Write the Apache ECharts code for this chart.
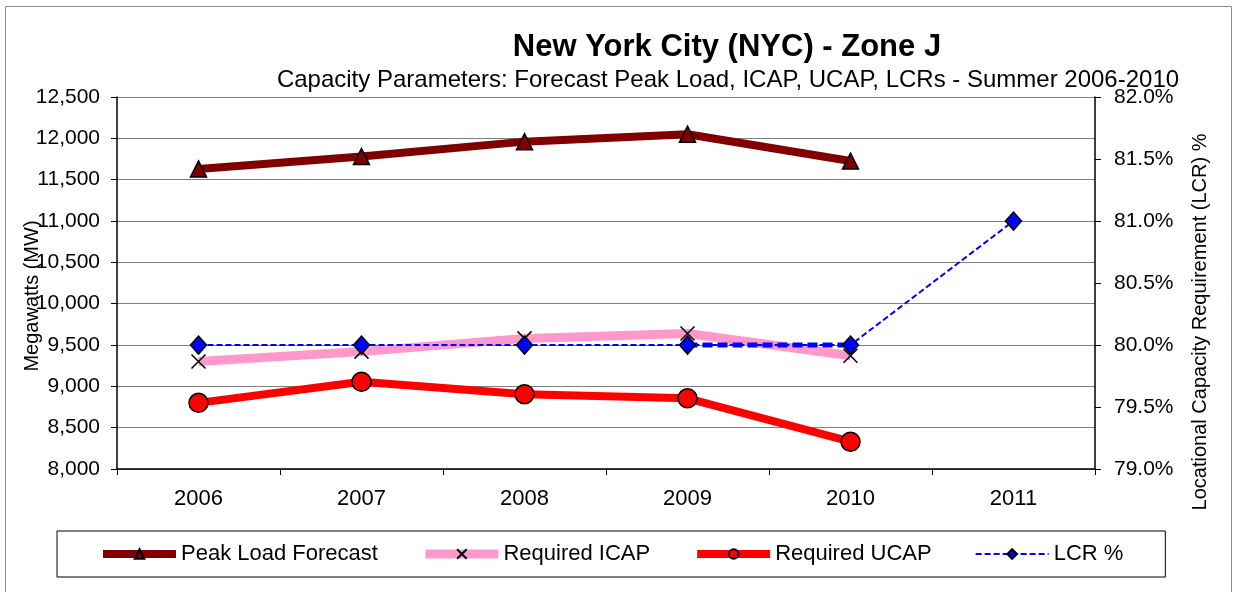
<!DOCTYPE html>
<html lang="en" style="height: 100%">
<head>
  <meta charset="utf-8">
</head>
<body style="height: 100%; margin: 0; background: #fff">
  <div id="container" style="width: 1235px; height: 592px"></div>

  <script type="text/javascript" src="https://fastly.jsdelivr.net/npm/echarts@6/dist/echarts.min.js"></script>

  <script type="text/javascript">
    var years = ['2006', '2007', '2008', '2009', '2010', '2011'];
    var peakLoad = [11630, 11780, 11960, 12050, 11725, null];
    var requiredIcap = [9300, 9420, 9580, 9640, 9370, null];
    var requiredUcap = [8800, 9055, 8905, 8855, 8330, null];
    var lcrPct = [80.0, 80.0, 80.0, 80.0, 80.0, 81.0];

    // the 2009-2010 LCR segment is drawn heavier in the original
    var lcrHeavy = lcrPct.map(function (v, i) { return (i === 3 || i === 4) ? v : null; });

    var FONT = 'Liberation Sans, Arial, sans-serif';

    var dom = document.getElementById('container');
    var myChart = echarts.init(dom, null, { renderer: 'canvas' });

    var option = {
      backgroundColor: '#ffffff',
      animation: false,
      title: [
        {
          text: 'New York City (NYC) - Zone J',
          left: 727, top: 32, textAlign: 'center', padding: 0,
          textStyle: { fontFamily: FONT, fontSize: 31, fontWeight: 'bold', color: '#000' }
        },
        {
          text: 'Capacity Parameters: Forecast Peak Load, ICAP, UCAP, LCRs - Summer 2006-2010',
          left: 728, top: 68, textAlign: 'center', padding: 0,
          textStyle: { fontFamily: FONT, fontSize: 24, fontWeight: 'normal', color: '#000' }
        }
      ],
      graphic: [
        {
          type: 'rect', silent: true, z: -1,
          shape: { x: 5.5, y: 6.5, width: 1226, height: 620 },
          style: { fill: 'none', stroke: '#8c8c8c', lineWidth: 1 }
        },
        {
          type: 'text', x: 32, y: 296, rotation: Math.PI / 2,
          style: {
            text: 'Megawatts (MW)', font: '20px ' + FONT, fill: '#000',
            align: 'center', verticalAlign: 'middle'
          }
        },
        {
          type: 'text', x: 1200, y: 322, rotation: Math.PI / 2,
          style: {
            text: 'Locational Capacity Requirement (LCR) %', font: '20px ' + FONT, fill: '#000',
            align: 'center', verticalAlign: 'middle'
          }
        }
      ],
      legend: {
        left: 57, top: 531,
        padding: [12, 42, 12, 42],
        borderColor: '#000', borderWidth: 1,
        itemWidth: 73, itemHeight: 12, itemGap: 43,
        lineStyle: { width: 'inherit' },
        textStyle: { fontFamily: FONT, fontSize: 22, color: '#000' },
        data: ['Peak Load Forecast', 'Required ICAP', 'Required UCAP', 'LCR %']
      },
      grid: { left: 117, right: 140, top: 97, bottom: 123 },
      xAxis: {
        type: 'category',
        data: years,
        boundaryGap: true,
        axisLine: { lineStyle: { color: '#000', width: 1.5 } },
        axisTick: { show: true, inside: false, length: 6, lineStyle: { color: '#000' } },
        axisLabel: { fontFamily: FONT, fontSize: 22, color: '#000', margin: 19 },
        splitLine: { show: false }
      },
      yAxis: [
        {
          type: 'value',
          min: 8000, max: 12500, interval: 500,
          axisLine: { show: true, lineStyle: { color: '#000', width: 1.5 } },
          axisTick: { show: true, length: 6, lineStyle: { color: '#000' } },
          axisLabel: {
            fontFamily: FONT, fontSize: 21, color: '#000', margin: 17,
            formatter: function (v) { return v.toLocaleString('en-US'); }
          },
          splitLine: { show: true, lineStyle: { color: '#808080', width: 1 } }
        },
        {
          type: 'value',
          position: 'right',
          min: 79, max: 82, interval: 0.5,
          axisLine: { show: true, lineStyle: { color: '#000', width: 1.5 } },
          axisTick: { show: true, length: 6, lineStyle: { color: '#000' } },
          axisLabel: {
            fontFamily: FONT, fontSize: 21, color: '#000', margin: 19,
            formatter: function (v) { return v.toFixed(1) + '%'; }
          },
          splitLine: { show: false }
        }
      ],
      series: [
        {
          name: 'Peak Load Forecast',
          type: 'line',
          data: peakLoad,
          yAxisIndex: 0,
          symbol: 'triangle',
          symbolSize: 16,
          lineStyle: { color: '#800000', width: 8 },
          itemStyle: { color: '#800000', borderColor: '#000', borderWidth: 1.5 },
          z: 3
        },
        {
          name: 'Required ICAP',
          type: 'line',
          data: requiredIcap,
          yAxisIndex: 0,
          symbol: 'path://M0,0L10,10M10,0L0,10',
          symbolSize: 14,
          lineStyle: { color: '#FF99CC', width: 9 },
          itemStyle: { color: '#000', borderColor: '#000', borderWidth: 1.5 },
          z: 3
        },
        {
          name: 'Required UCAP',
          type: 'line',
          data: requiredUcap,
          yAxisIndex: 0,
          symbol: 'circle',
          symbolSize: 19,
          lineStyle: { color: '#FF0000', width: 8 },
          itemStyle: { color: '#FF0000', borderColor: '#000', borderWidth: 1.5 },
          z: 3
        },
        {
          name: 'LCR heavy',
          type: 'line',
          data: lcrHeavy,
          yAxisIndex: 1,
          showSymbol: false,
          lineStyle: { color: '#0000FF', width: 5, type: [10, 5] },
          z: 4
        },
        {
          name: 'LCR %',
          type: 'line',
          data: lcrPct,
          yAxisIndex: 1,
          symbol: 'diamond',
          symbolSize: [16, 18],
          lineStyle: { color: '#0000FF', width: 2, type: [6, 3] },
          itemStyle: { color: '#0000FF', borderColor: '#000', borderWidth: 1.5 },
          z: 5
        }
      ]
    };

    myChart.setOption(option);

    window.addEventListener('resize', myChart.resize);
  </script>
</body>
</html>
